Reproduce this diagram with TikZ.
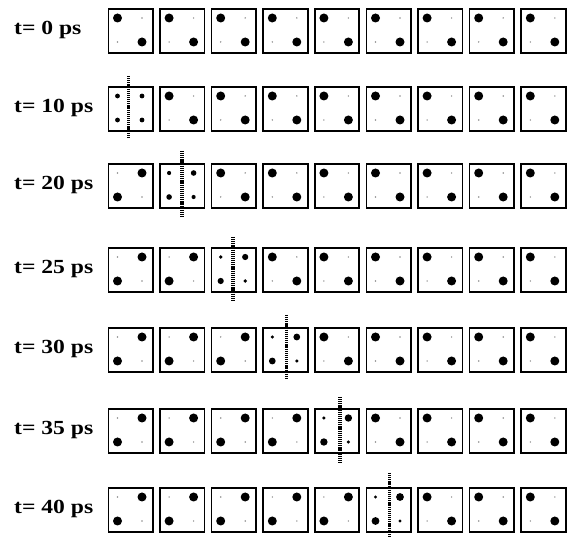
\documentclass[tikz,border=0pt]{standalone}
\usepackage{fontspec}
\usepackage{graphicx}
\setmainfont{Liberation Serif}
\tikzset{
  cell/.style={draw=black, line width=1.7pt, minimum width=44.5pt, minimum height=44pt, inner sep=0pt, anchor=north west},
  bigdot/.style={fill=black},
  tinydot/.style={fill=black!45},
  front/.style={line width=3.5pt, dash pattern=on 1.2pt off 0.9pt},
  lbl/.style={font=\bfseries\fontsize{20}{20}\selectfont, anchor=base west, inner sep=0pt}
}
\begin{document}
\begin{tikzpicture}[x=1pt,y=-1pt]
\useasboundingbox (0,0) rectangle (571,537);
\foreach \r/\top/\lab/\f/\dx/\up/\dn/\ra/\rb in {
0/8/0/-1/0/0/0/0/0,
1/86/10/0/-2/10/6/2.4/2.4,
2/163/20/1/0/12/8/2.1/2.8,
3/247/25/2/-1/10/9/1.9/3.1,
4/327/30/3/1/12/7/1.7/3.4,
5/408/35/4/3/11/10/1.7/3.7,
6/487/40/5/1/14/6/1.6/3.9}{
  \node[lbl] (L\r) at (14,\top+26.5) {\scalebox{1.18}[1]{t= \lab\ ps}};
  \foreach \i in {0,...,8}{
    \pgfmathsetmacro\bx{107.5+51.6*\i}
    \node[cell] (B\r-\i) at (\bx,\top) {};
    \ifnum\i<\f
      \fill[bigdot] ([shift={(34.5,10)}]B\r-\i.north west) circle (4.5);
      \fill[bigdot] ([shift={(10,34)}]B\r-\i.north west) circle (4.5);
      \fill[tinydot] ([shift={(10,10)}]B\r-\i.north west) circle (0.8);
      \fill[tinydot] ([shift={(34.5,34)}]B\r-\i.north west) circle (0.8);
    \else
      \ifnum\i=\f
        \fill[bigdot] ([shift={(10,10)}]B\r-\i.north west) circle (\ra);
        \fill[bigdot] ([shift={(34.5,34)}]B\r-\i.north west) circle (\ra);
        \fill[bigdot] ([shift={(34.5,10)}]B\r-\i.north west) circle (\rb);
        \fill[bigdot] ([shift={(10,34)}]B\r-\i.north west) circle (\rb);
        \draw[front] ([shift={(\dx,-\up)}]B\r-\i.north) -- ([shift={(\dx,\dn)}]B\r-\i.south);
      \else
        \fill[bigdot] ([shift={(10,10)}]B\r-\i.north west) circle (4.5);
        \fill[bigdot] ([shift={(34.5,34)}]B\r-\i.north west) circle (4.5);
        \fill[tinydot] ([shift={(34.5,10)}]B\r-\i.north west) circle (0.8);
        \fill[tinydot] ([shift={(10,34)}]B\r-\i.north west) circle (0.8);
      \fi
    \fi
  }
}
\end{tikzpicture}
\end{document}
